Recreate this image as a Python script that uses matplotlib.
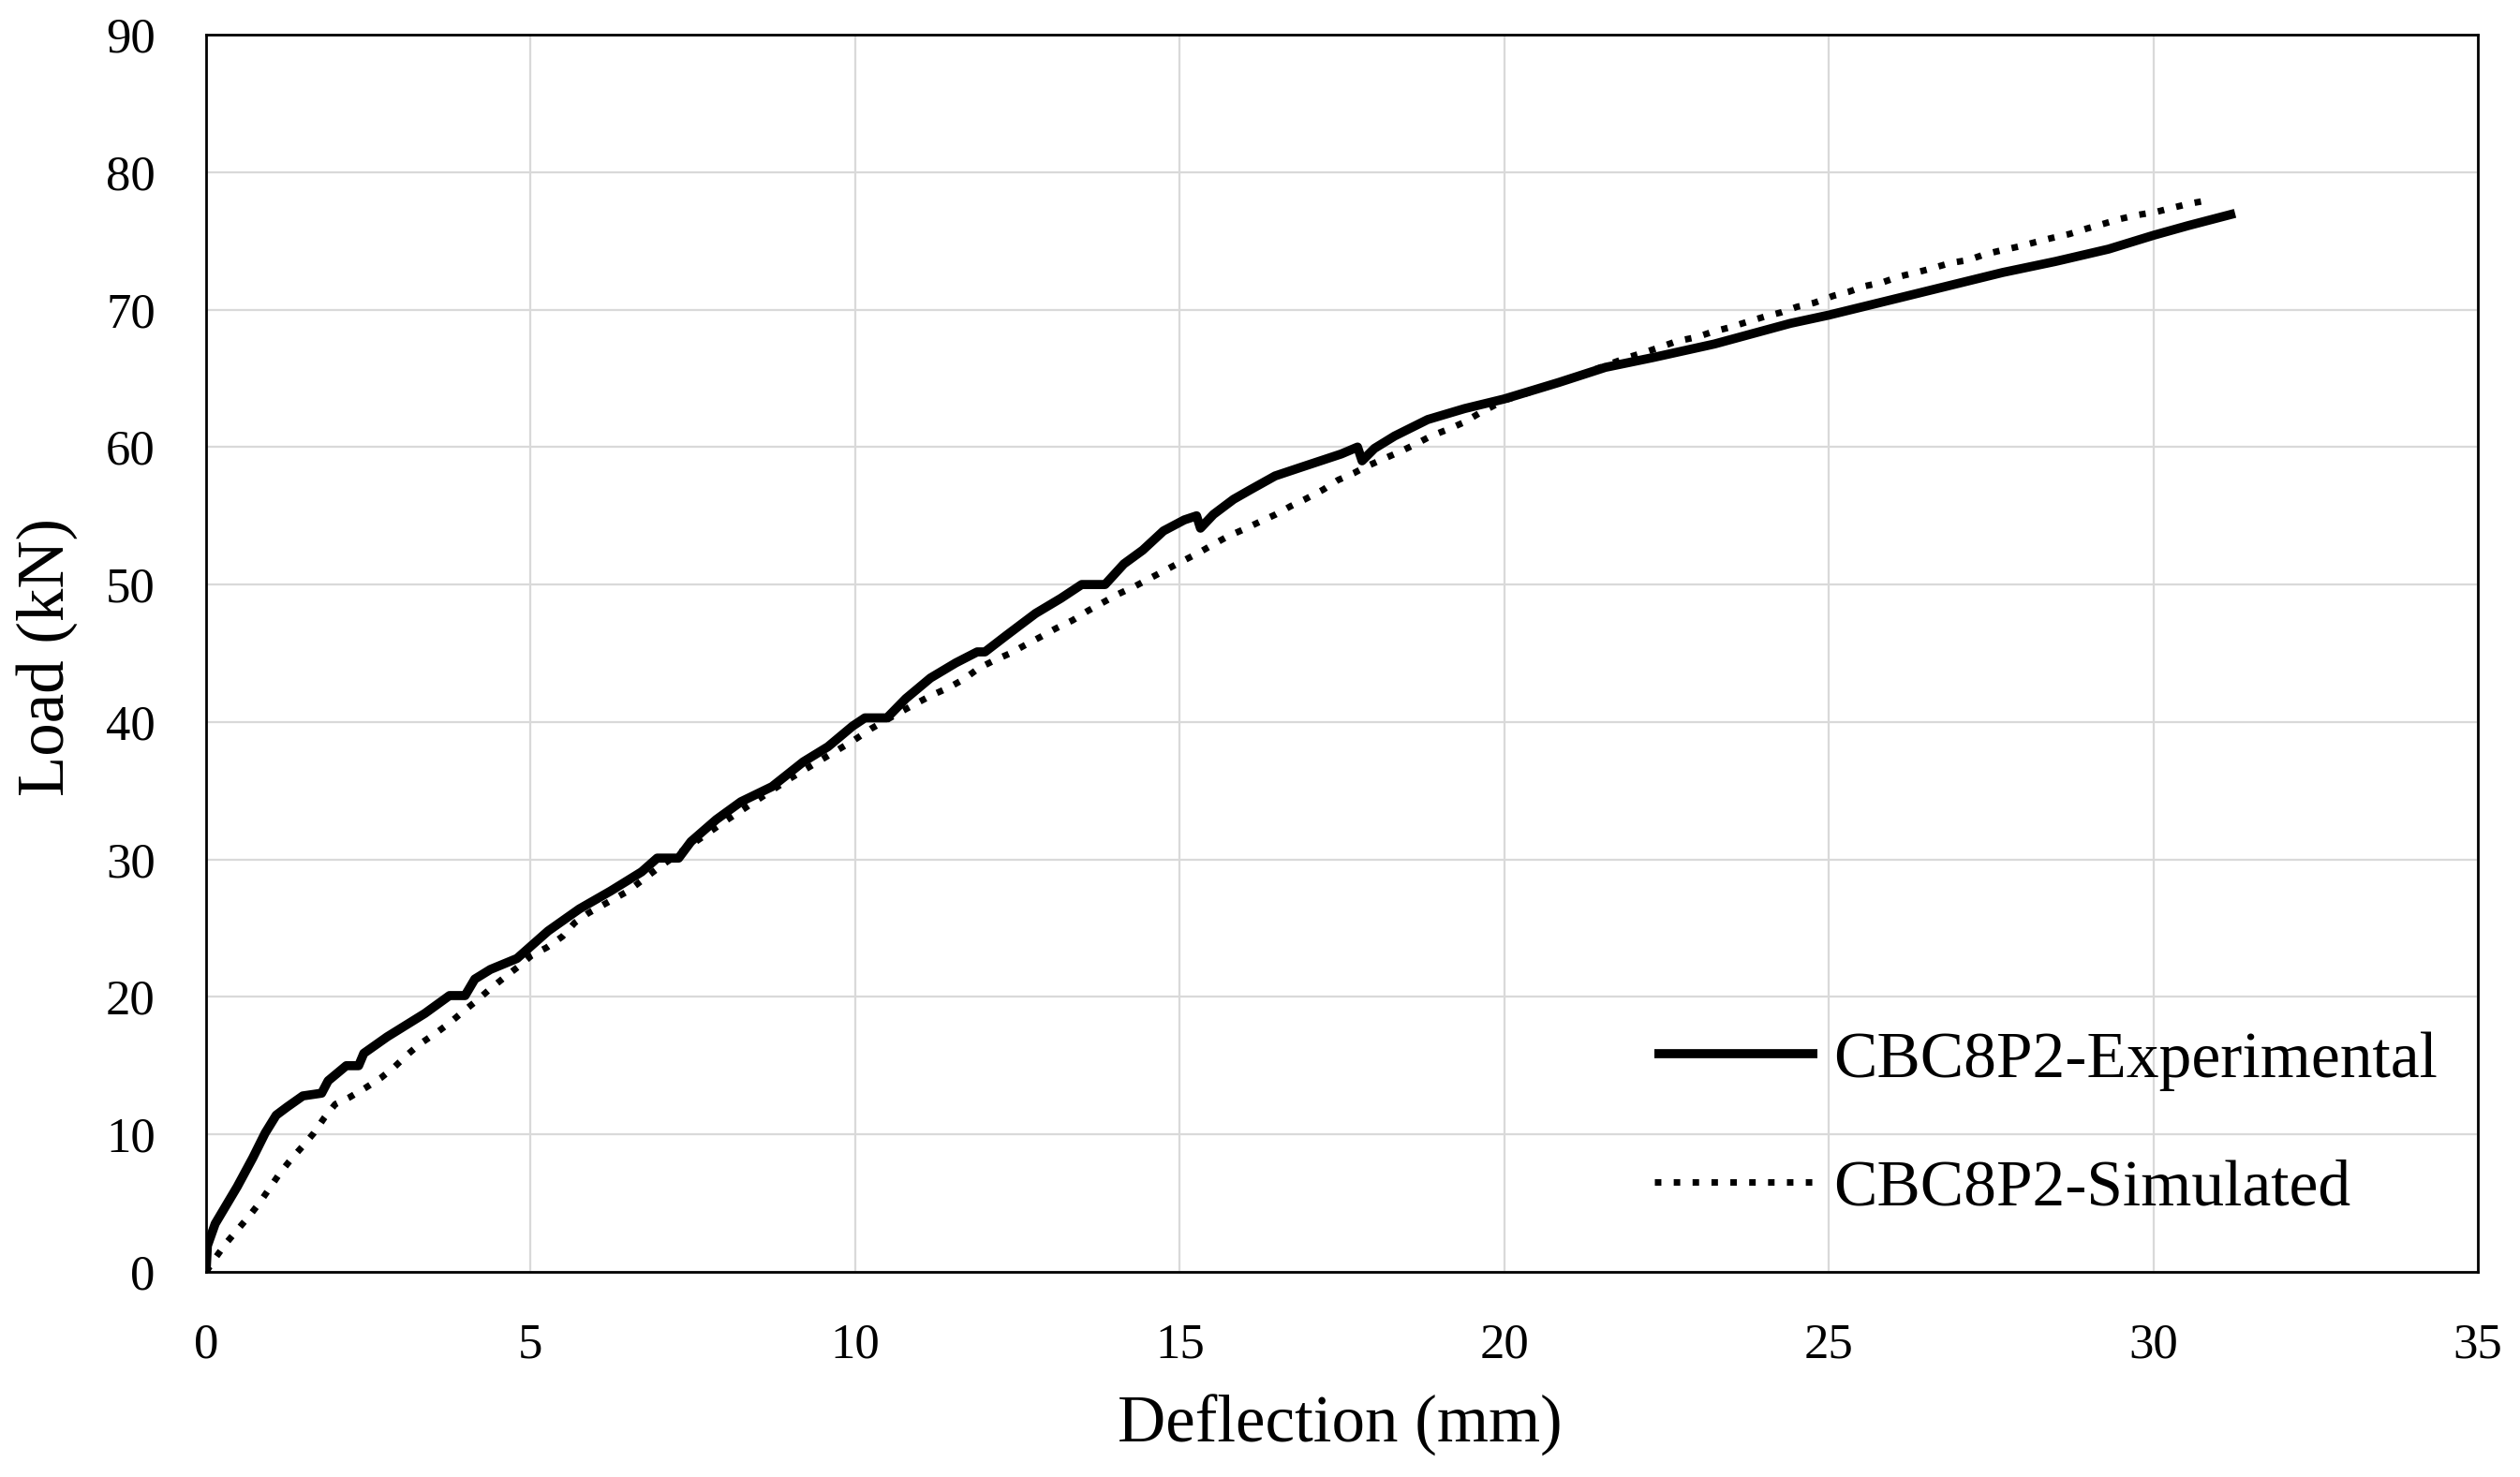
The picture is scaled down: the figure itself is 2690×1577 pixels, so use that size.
import matplotlib
matplotlib.use("Agg")
import matplotlib.pyplot as plt

# ---- data ----
exp_x = [0, 0.02, 0.14, 0.48, 0.72, 0.91, 1.08, 1.25, 1.49, 1.78, 1.88, 2.16, 2.35, 2.43,
         2.79, 3.37, 3.75, 3.99, 4.14, 4.38, 4.79, 5.27, 5.75, 6.23, 6.71, 6.95, 7.28, 7.47,
         7.86, 8.24, 8.72, 9.2, 9.58, 9.96, 10.15, 10.49, 10.78, 11.16, 11.55, 11.88, 12.0,
         12.33, 12.78, 13.17, 13.49, 13.85, 14.14, 14.43, 14.75, 15.07, 15.26, 15.32, 15.52,
         15.83, 16.09, 16.47, 16.85, 17.17, 17.49, 17.74, 17.81, 18.0, 18.31, 18.82, 19.39,
         20.0, 20.84, 21.56, 22.28, 23.24, 24.41, 25.0, 26.04, 26.86, 27.68, 28.49, 29.31,
         30.0, 30.53, 31.26]
exp_y = [0, 1.9, 3.5, 6.2, 8.3, 10.1, 11.4, 12.0, 12.8, 13.0, 13.9, 15.0, 15.0, 15.9,
         17.1, 18.8, 20.1, 20.1, 21.3, 22.0, 22.8, 24.8, 26.4, 27.7, 29.1, 30.1, 30.1, 31.3,
         32.9, 34.2, 35.3, 37.1, 38.2, 39.7, 40.3, 40.3, 41.7, 43.2, 44.3, 45.1, 45.1,
         46.3, 47.9, 49.0, 50.0, 50.0, 51.5, 52.5, 53.9, 54.7, 55.0, 54.1, 55.1,
         56.2, 56.9, 57.9, 58.5, 59.0, 59.5, 60.0, 59.0, 59.9, 60.8, 62.0, 62.8,
         63.5, 64.7, 65.8, 66.5, 67.5, 69.0, 69.6, 70.8, 71.75, 72.7, 73.5, 74.4,
         75.4, 76.1, 77.0]

sim_x = [0, 0.14, 0.31, 0.49, 0.67, 0.82, 0.98, 1.14, 1.31, 1.48, 1.66, 1.82, 1.99, 2.21,
         2.46, 2.69, 2.90, 3.10, 3.30, 3.55, 3.75, 3.95, 4.16, 4.38, 4.59, 4.81, 5.01, 5.25,
         5.49, 5.68, 5.89, 6.5, 7.0, 8.0, 9.0, 9.99, 10.24, 10.65, 10.92, 11.16, 11.44, 11.67,
         11.90, 12.15, 12.39, 12.62, 12.86, 13.09, 13.35, 13.59, 13.82, 14.05, 14.32, 14.56,
         14.80, 15.0, 15.29, 15.51, 15.74, 15.98, 16.25, 16.48, 16.71, 16.93, 17.21, 17.44,
         17.68, 17.88, 18.17, 18.41, 18.63, 18.87, 19.14, 19.38, 19.63, 20.0, 20.8, 21.6,
         21.89, 22.17, 22.42, 22.66, 22.97, 23.22, 23.47, 23.74, 24.02, 24.27, 24.51, 24.78,
         25.07, 25.31, 25.55, 25.84, 26.08, 26.35, 26.59, 26.88, 27.15, 27.39, 27.65, 27.94,
         28.18, 28.43, 28.71, 28.98, 29.24, 29.49, 29.78, 30.04, 30.29, 30.55, 30.84]
sim_y = [0, 1.0, 2.1, 3.1, 4.1, 5.0, 6.1, 7.2, 8.2, 9.1, 10.1, 11.2, 12.2, 12.7,
         13.4, 14.1, 14.9, 15.8, 16.6, 17.4, 18.1, 18.9, 19.7, 20.6, 21.4, 22.2, 23.0, 23.6,
         24.4, 25.4, 26.1, 27.7, 29.5, 32.8, 35.9, 38.7, 39.5, 40.6, 41.3, 41.9, 42.5, 43.1,
         43.9, 44.5, 45.0, 45.6, 46.2, 46.8, 47.4, 48.1, 48.7, 49.3, 49.9, 50.5,
         51.1, 51.6, 52.3, 52.9, 53.5, 54.0, 54.6, 55.1, 55.7, 56.2, 56.9, 57.6,
         58.1, 58.6, 59.2, 59.7, 60.2, 60.8, 61.3, 61.8, 62.5, 63.4, 64.6, 66.0,
         66.5, 66.9, 67.3, 67.7, 68.0, 68.4, 68.7, 69.1, 69.5, 69.8, 70.2, 70.5,
         71.0, 71.3, 71.7, 72.0, 72.4, 72.7, 73.0, 73.4, 73.6, 74.0, 74.3, 74.6,
         74.9, 75.2, 75.5, 75.9, 76.25, 76.6, 76.9, 77.1, 77.4, 77.7, 77.95]

x_ticks = [0, 5, 10, 15, 20, 25, 30, 35]
y_ticks = [0, 10, 20, 30, 40, 50, 60, 70, 80, 90]
series_labels = ["CBC8P2-Experimental", "CBC8P2-Simulated"]
x_label = "Deflection (mm)"
y_label = "Load (kN)"

# ---- figure ----
plt.rcParams["font.family"] = ["Liberation Serif", "DejaVu Serif"]
W, H = 2690, 1577
fig = plt.figure(figsize=(W / 100, H / 100), dpi=100)
ax = fig.add_axes([220 / W, 1 - 1358 / H, (2645 - 220) / W, (1358 - 37) / H])

ax.plot(sim_x, sim_y, color="black", lw=5, linestyle=(0, (1, 1.9)),
        label=series_labels[1], zorder=3)
ax.plot(exp_x, exp_y, color="black", lw=7, solid_capstyle="butt",
        label=series_labels[0], zorder=4)

ax.set_xlim(0, 35)
ax.set_ylim(0, 90)
ax.set_xticks(x_ticks)
ax.set_yticks(y_ticks)
ax.tick_params(axis="both", length=0, pad=39, labelsize=38)
ax.grid(True, color="#d9d9d9", lw=1.6)
ax.set_axisbelow(True)
for s in ax.spines.values():
    s.set_color("black")
    s.set_linewidth(2)

ax.set_xlabel(x_label, fontsize=51)
ax.xaxis.label.set_va("center")
ax.xaxis.set_label_coords((1430 - 220) / 2425, (1358 - 1522) / 1321)
ax.set_ylabel(y_label, fontsize=51)
ax.yaxis.label.set_va("center")
ax.yaxis.set_label_coords((50 - 220) / 2425, (1358 - 702) / 1321)

handles, labels = ax.get_legend_handles_labels()
order = [1, 0]
leg = ax.legend([handles[i] for i in order], [labels[i] for i in order],
                loc="upper left", bbox_to_anchor=(1766 / W, 1 - 1101 / H),
                bbox_transform=fig.transFigure, frameon=False, fontsize=50,
                borderpad=0, borderaxespad=0, handlelength=2.5,
                handletextpad=0.25, labelspacing=1.05)

fig.savefig("out.png", dpi=100)
